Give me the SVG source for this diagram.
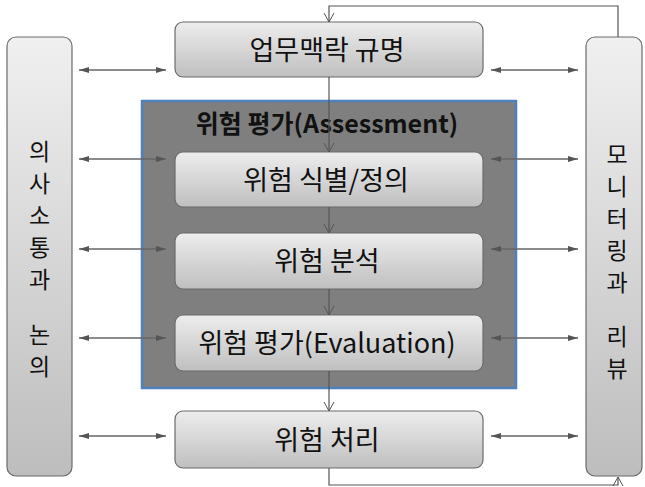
<svg xmlns="http://www.w3.org/2000/svg" width="645" height="487" viewBox="0 0 645 487">
<defs>
<linearGradient id="gBox" x1="0" y1="0" x2="0" y2="1">
<stop offset="0" stop-color="#ededed"/>
<stop offset="1" stop-color="#bfbfbf"/>
</linearGradient>
<linearGradient id="gCol" x1="0" y1="0" x2="0" y2="1">
<stop offset="0" stop-color="#f0f0f0"/>
<stop offset="1" stop-color="#bdbdbd"/>
</linearGradient>
<marker id="filled" viewBox="0 0 10 10" refX="10" refY="5" markerWidth="10" markerHeight="10" markerUnits="userSpaceOnUse" orient="auto-start-reverse">
<path d="M0,2 L10,5 L0,8 Z" fill="#555"/>
</marker>
<marker id="open" viewBox="0 0 12 12" refX="6" refY="11" markerWidth="12" markerHeight="12" markerUnits="userSpaceOnUse" orient="0">
<path d="M1,2 L6,11 L11,2" fill="none" stroke="#555" stroke-width="1"/>
</marker>
<marker id="openUp" viewBox="0 0 12 12" refX="6" refY="1" markerWidth="12" markerHeight="12" markerUnits="userSpaceOnUse" orient="0">
<path d="M1,10 L6,1 L11,10" fill="none" stroke="#555" stroke-width="1"/>
</marker>
</defs>
<style>
.box { fill: url(#gBox); stroke: #6b6b6b; stroke-width: 1.2; }
.col { fill: url(#gCol); stroke: #6b6b6b; stroke-width: 1.2; }
.lbl { font-family: "Noto Sans CJK KR", "Noto Sans", sans-serif; font-size: 27px; fill: #111; text-anchor: middle; }
.vt { font-family: "Noto Sans CJK KR", "Noto Sans", sans-serif; font-size: 23px; fill: #111; text-anchor: middle; }
.title { font-family: "Noto Sans CJK KR", "Noto Sans", sans-serif; font-size: 25px; font-weight: bold; fill: #111; text-anchor: middle; }
.bi { stroke: #666; stroke-width: 1.5; fill: none; marker-start: url(#filled); marker-end: url(#filled); }
.flow { stroke: #555; stroke-width: 1.2; fill: none; }
</style>

<g id="assessment">
<rect x="142" y="101" width="374" height="287" fill="#7f7f7f" stroke="#4f81bd" stroke-width="2.5"/>
<text class="title" x="327" y="133">위험 평가(Assessment)</text>
</g>

<g id="left-column">
<rect class="col" x="7" y="37" width="65" height="439" rx="9"/>
<text class="vt" x="39.5" y="160">의</text>
<text class="vt" x="39.5" y="192">사</text>
<text class="vt" x="39.5" y="224">소</text>
<text class="vt" x="39.5" y="256">통</text>
<text class="vt" x="39.5" y="288">과</text>
<text class="vt" x="39.5" y="343">논</text>
<text class="vt" x="39.5" y="375">의</text>
</g>

<g id="right-column">
<rect class="col" x="586" y="37" width="56" height="439" rx="9"/>
<text class="vt" x="617" y="163">모</text>
<text class="vt" x="617" y="195">니</text>
<text class="vt" x="617" y="227">터</text>
<text class="vt" x="617" y="259">링</text>
<text class="vt" x="617" y="291">과</text>
<text class="vt" x="617" y="345">리</text>
<text class="vt" x="617" y="377">뷰</text>
</g>

<g id="context">
<rect class="box" x="175" y="22" width="308" height="55" rx="8"/>
<text class="lbl" x="327" y="60">업무맥락 규명</text>
</g>

<g id="identify">
<rect class="box" x="175" y="152" width="308" height="55" rx="8"/>
<text class="lbl" x="326" y="190">위험 식별/정의</text>
</g>

<g id="analysis">
<rect class="box" x="175" y="233" width="308" height="56" rx="8"/>
<text class="lbl" x="327" y="271">위험 분석</text>
</g>

<g id="evaluation">
<rect class="box" x="175" y="315" width="308" height="56" rx="8"/>
<text class="lbl" x="327" y="353">위험 평가(Evaluation)</text>
</g>

<g id="treatment">
<rect class="box" x="175" y="411" width="308" height="57" rx="8"/>
<text class="lbl" x="327" y="450">위험 처리</text>
</g>

<g id="connectors">
<line class="flow" x1="329" y1="77" x2="329" y2="152" marker-end="url(#open)"/>
<line class="flow" x1="329" y1="207" x2="329" y2="233" marker-end="url(#open)"/>
<line class="flow" x1="329" y1="289" x2="329" y2="315" marker-end="url(#open)"/>
<line class="flow" x1="329" y1="371" x2="329" y2="411" marker-end="url(#open)"/>
<polyline class="flow" points="618,37 618,6 329,6 329,22" marker-end="url(#open)"/>
<polyline class="flow" points="329,468 329,485 618,485 618,477" marker-end="url(#openUp)"/>
<line class="bi" x1="79" y1="70" x2="166" y2="70"/>
<line class="bi" x1="491" y1="70" x2="578" y2="70"/>
<line class="bi" x1="79" y1="159" x2="166" y2="159"/>
<line class="bi" x1="491" y1="159" x2="578" y2="159"/>
<line class="bi" x1="79" y1="249" x2="166" y2="249"/>
<line class="bi" x1="491" y1="249" x2="578" y2="249"/>
<line class="bi" x1="79" y1="338" x2="166" y2="338"/>
<line class="bi" x1="491" y1="338" x2="578" y2="338"/>
<line class="bi" x1="79" y1="436" x2="166" y2="436"/>
<line class="bi" x1="491" y1="436" x2="578" y2="436"/>
</g>
</svg>
